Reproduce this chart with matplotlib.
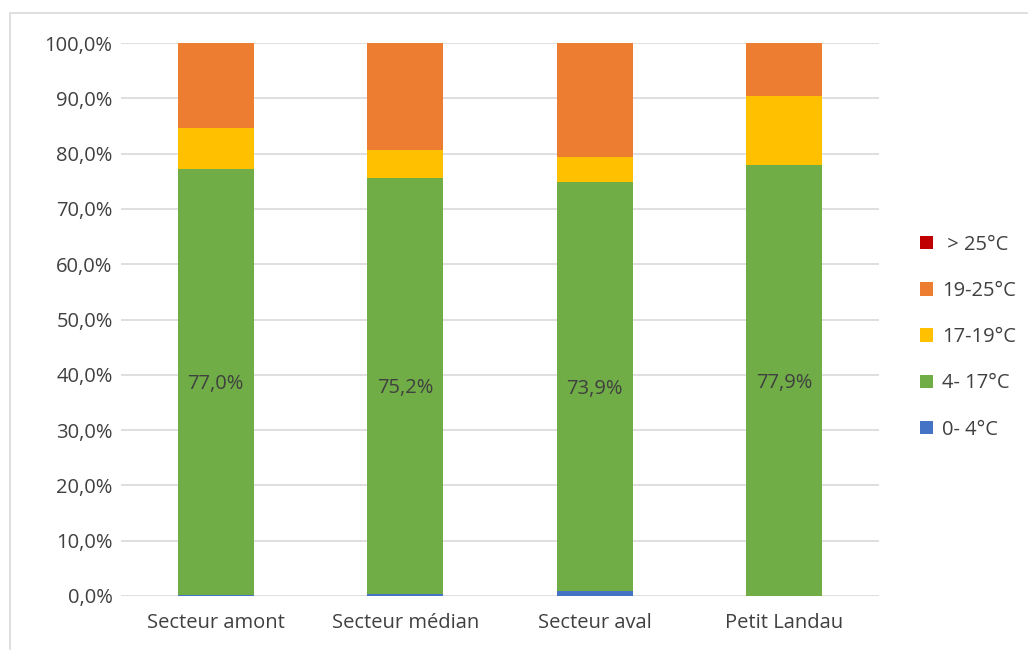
import numpy as np
import matplotlib.pyplot as plt
from matplotlib.patches import Rectangle
from matplotlib.ticker import FuncFormatter

plt.rcParams['font.family'] = ['Open Sans', 'DejaVu Sans']

# Stations and share of time spent in each temperature class (%)
secteurs = ["Secteur amont", "Secteur médian", "Secteur aval", "Petit Landau"]
classes = ["0- 4°C", "4- 17°C", "17-19°C", "19-25°C", " > 25°C"]
part_0_4 = [0.2, 0.4, 0.9, 0.0]
part_4_17 = [77.0, 75.2, 73.9, 77.9]
part_17_19 = [7.4, 5.1, 4.6, 12.5]
part_19_25 = [15.4, 19.3, 20.6, 9.6]
part_25 = [0.0, 0.0, 0.0, 0.0]
couleurs = ["#4472c4", "#70ad47", "#ffc000", "#ed7d31", "#c00000"]

series = [part_0_4, part_4_17, part_17_19, part_19_25, part_25]

fig = plt.figure(figsize=(10.28, 6.5), dpi=100)
ax = fig.add_axes([0.1177, 0.0831, 0.7373, 0.8507])

x = np.arange(len(secteurs))
bas = np.zeros(len(secteurs))
barres = []
for vals, coul, nom in zip(series, couleurs, classes):
    b = ax.bar(x, vals, bottom=bas, width=0.4, color=coul, label=nom, zorder=3)
    barres.append(b)
    bas = bas + np.array(vals)

# value labels in the middle of the 4-17°C segment
for i, v in enumerate(part_4_17):
    ax.text(x[i], part_0_4[i] + v / 2 - 0.4, f"{v:.1f}%".replace(".", ","),
            ha="center", va="center", fontsize=14.5, color="#404040", zorder=4)

ax.set_ylim(0, 100)
ax.set_xlim(-0.5, len(secteurs) - 0.5)
ax.set_yticks(np.arange(0, 101, 10))
ax.yaxis.set_major_formatter(FuncFormatter(lambda v, p: f"{v:.1f}%".replace(".", ",")))
ax.set_xticks(x)
ax.set_xticklabels(secteurs)
ax.tick_params(axis="both", length=0, labelsize=14.5, labelcolor="#404040")
ax.tick_params(axis="x", pad=12)
ax.tick_params(axis="y", pad=6)
ax.grid(axis="y", color="#d9d9d9", linewidth=1.2, zorder=0)
for s in ax.spines.values():
    s.set_visible(False)

handles = barres[::-1]
leg = ax.legend(handles, classes[::-1], loc="center left", bbox_to_anchor=(1.03, 0.468),
                frameon=False, fontsize=14.5, labelcolor="#404040",
                handlelength=0.65, handleheight=0.65, handletextpad=0.45,
                labelspacing=1.3)

# light frame around the chart
fig.patches.append(Rectangle((10 / 1028, -0.01), 1.05, 1 - 13 / 650 + 0.01,
                             transform=fig.transFigure, fill=False,
                             edgecolor="#d9d9d9", linewidth=1.2))

fig.savefig("out.png", dpi=100)
